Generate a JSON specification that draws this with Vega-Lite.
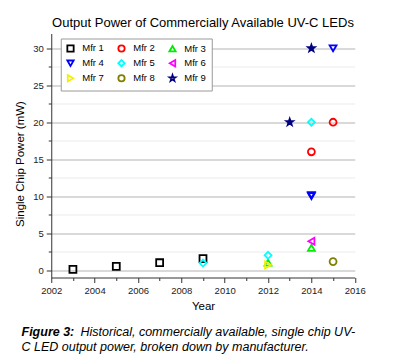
{
  "$schema": "https://vega.github.io/schema/vega-lite/v6.json",
  "background": "white",
  "padding": {"left": 14.25, "top": 16.5, "right": 2, "bottom": 4},
  "config": {
    "font": "Liberation Sans",
    "view": {"stroke": null},
    "axis": {"labelFont": "Liberation Sans", "titleFont": "Liberation Sans", "labelColor": "#222", "titleColor": "#000", "domainColor": "#333", "tickColor": "#333"}
  },
  "title": {
    "text": "Figure 3:",
    "subtitle": ["\u200b\u00a0\u00a0\u00a0\u00a0\u00a0\u00a0\u00a0\u00a0\u00a0\u00a0\u00a0\u00a0\u00a0\u00a0\u00a0\u00a0\u00a0Historical, commercially available, single chip UV-", "C LED output power, broken down by manufacturer."],
    "orient": "bottom", "anchor": "start", "offset": 14, "dx": 6.75,
    "font": "Liberation Sans", "fontSize": 12.5, "fontWeight": "bold", "fontStyle": "italic", "color": "#000",
    "subtitleFont": "Liberation Sans", "subtitleFontSize": 12.5, "subtitleFontStyle": "italic", "subtitleFontWeight": "normal", "subtitleColor": "#000", "subtitlePadding": -12.5, "subtitleLineHeight": 15
  },
  "vconcat": [
    {
      "width": 303.5,
      "height": 244,
      "title": {
        "text": "Output Power of Commercially Available UV-C LEDs",
        "orient": "top", "anchor": "middle", "offset": 3.5,
        "font": "Liberation Sans", "fontSize": 13, "fontWeight": "normal", "color": "#000"
      },
      "data": {
        "values": [
          {"mfr": "Mfr 1", "year": 2003, "power": 0.1},
          {"mfr": "Mfr 1", "year": 2005, "power": 0.5},
          {"mfr": "Mfr 1", "year": 2007, "power": 1.0},
          {"mfr": "Mfr 1", "year": 2009, "power": 1.55},
          {"mfr": "Mfr 2", "year": 2014, "power": 16},
          {"mfr": "Mfr 2", "year": 2015, "power": 20},
          {"mfr": "Mfr 3", "year": 2012, "power": 1.0},
          {"mfr": "Mfr 3", "year": 2014, "power": 3.0},
          {"mfr": "Mfr 4", "year": 2014, "power": 10},
          {"mfr": "Mfr 4", "year": 2014, "power": 10.15},
          {"mfr": "Mfr 4", "year": 2015, "power": 30},
          {"mfr": "Mfr 5", "year": 2009, "power": 0.95},
          {"mfr": "Mfr 5", "year": 2012, "power": 2.0},
          {"mfr": "Mfr 5", "year": 2014, "power": 20},
          {"mfr": "Mfr 6", "year": 2014, "power": 3.9},
          {"mfr": "Mfr 7", "year": 2012, "power": 0.7},
          {"mfr": "Mfr 8", "year": 2015, "power": 1.15},
          {"mfr": "Mfr 9", "year": 2013, "power": 20},
          {"mfr": "Mfr 9", "year": 2014, "power": 30}
        ]
      },
      "encoding": {
        "x": {
          "field": "year", "type": "quantitative",
          "scale": {"domain": [2002, 2016], "nice": false, "zero": false},
          "axis": {
            "orient": "bottom",
            "values": [2002, 2003, 2004, 2005, 2006, 2007, 2008, 2009, 2010, 2011, 2012, 2013, 2014, 2015, 2016],
            "format": "d", "labelExpr": "datum.value % 2 == 0 ? datum.label : ''", "labelOverlap": false, "labelFlush": false,
            "grid": false,
            "tickSize": {"condition": {"test": "datum.value % 2 == 1", "value": 3}, "value": 5},
            "labelFontSize": 9.5, "labelPadding": 2.5,
            "title": "Year", "titleFontSize": 11.5, "titleFontWeight": "normal", "titlePadding": 6
          }
        },
        "y": {
          "field": "power", "type": "quantitative",
          "scale": {"domain": [-1, 32], "nice": false, "zero": false},
          "axis": {
            "orient": "left",
            "values": [0, 2.5, 5, 7.5, 10, 12.5, 15, 17.5, 20, 22.5, 25, 27.5, 30],
            "labelExpr": "datum.value % 5 == 0 ? datum.label : ''", "labelOverlap": false,
            "grid": true,
            "gridColor": {"condition": {"test": "datum.value % 5 != 0", "value": "#ebebeb"}, "value": "#cccccc"},
            "gridWidth": {"condition": {"test": "datum.value % 5 != 0", "value": 1}, "value": 1.3},
            "tickSize": {"condition": {"test": "datum.value % 5 != 0", "value": 3}, "value": 5},
            "labelFontSize": 9.5, "labelPadding": 3,
            "title": "Single Chip Power (mW)", "titleFontSize": 11.5, "titleFontWeight": "normal",
            "titleX": -30.5, "titleY": 130, "titleAngle": -90, "titleAlign": "center", "titleBaseline": "middle"
          }
        }
      },
      "layer": [
        {
          "mark": {"type": "point", "filled": false, "opacity": 1, "strokeWidth": 1.8, "size": 48},
          "encoding": {
            "shape": {
              "field": "mfr", "type": "nominal",
              "scale": {"domain": ["Mfr 1", "Mfr 4", "Mfr 7", "Mfr 2", "Mfr 5", "Mfr 8", "Mfr 3", "Mfr 6", "Mfr 9"],
                        "range": ["square", "triangle-down", "triangle-right", "circle", "diamond", "circle", "triangle-up", "triangle-left", "M0,-1L0.235,-0.324L0.951,-0.309L0.38,0.124L0.588,0.809L0,0.4L-0.588,0.809L-0.38,0.124L-0.951,-0.309L-0.235,-0.324Z"]},
              "legend": {"title": null, "values": ["Mfr 1", "Mfr 4", "Mfr 7", "Mfr 2", "Mfr 5", "Mfr 8", "Mfr 3", "Mfr 6", "Mfr 9"], "orient": "none", "legendX": 9.5, "legendY": 5, "columns": 3, "strokeColor": "#999", "fillColor": "white", "padding": 5, "rowPadding": 0, "columnPadding": 9, "labelFontSize": 9.5, "labelFont": "Liberation Sans", "labelColor": "#000", "symbolSize": 40, "symbolStrokeWidth": 1.8, "labelOffset": 7,
                "encode": {"symbols": {"update": {"fill": {"signal": "datum.value === 'Mfr 9' ? '#000080' : 'transparent'"}}}}}
            },
            "color": {
              "field": "mfr", "type": "nominal",
              "scale": {"domain": ["Mfr 1", "Mfr 4", "Mfr 7", "Mfr 2", "Mfr 5", "Mfr 8", "Mfr 3", "Mfr 6", "Mfr 9"],
                        "range": ["#000000", "#0000ff", "#f2f200", "#ff0000", "#00ffff", "#808000", "#00ee00", "#ff00ff", "#000080"]},
              "legend": {"title": null, "values": ["Mfr 1", "Mfr 4", "Mfr 7", "Mfr 2", "Mfr 5", "Mfr 8", "Mfr 3", "Mfr 6", "Mfr 9"], "orient": "none", "legendX": 9.5, "legendY": 5, "columns": 3, "strokeColor": "#999", "fillColor": "white", "padding": 5, "rowPadding": 0, "columnPadding": 9, "labelFontSize": 9.5, "labelFont": "Liberation Sans", "labelColor": "#000", "symbolSize": 40, "symbolStrokeWidth": 1.8, "labelOffset": 7,
                "encode": {"symbols": {"update": {"fill": {"signal": "datum.value === 'Mfr 9' ? '#000080' : 'transparent'"}}}}}
            }
          }
        },
        {
          "transform": [{"filter": "datum.mfr == 'Mfr 9'"}],
          "mark": {"type": "point", "filled": true, "shape": "M0,-1L0.235,-0.324L0.951,-0.309L0.38,0.124L0.588,0.809L0,0.4L-0.588,0.809L-0.38,0.124L-0.951,-0.309L-0.235,-0.324Z", "color": "#000080", "opacity": 1, "size": 60}
        }
      ]
    }
  ]
}
